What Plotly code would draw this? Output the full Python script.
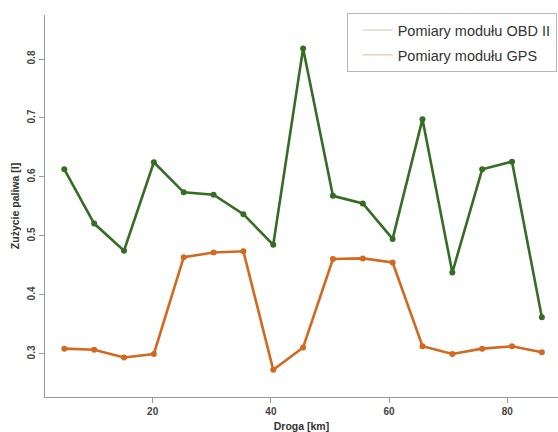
import plotly.graph_objects as go

# Distance travelled [km] at each measurement point
droga_km = [5.05, 10.1, 15.15, 20.2, 25.25, 30.3, 35.35, 40.4, 45.45,
            50.5, 55.55, 60.6, 65.65, 70.7, 75.75, 80.8, 85.85]

# Fuel consumption [l] per segment
obd2 = [0.613, 0.521, 0.475, 0.625, 0.574, 0.570, 0.537, 0.485, 0.818,
        0.568, 0.555, 0.495, 0.698, 0.438, 0.613, 0.626, 0.362]
gps = [0.309, 0.307, 0.294, 0.300, 0.464, 0.472, 0.474, 0.273, 0.311,
       0.461, 0.462, 0.455, 0.313, 0.300, 0.309, 0.313, 0.303]

x_ticks = [20, 40, 60, 80]
y_ticks = [0.3, 0.4, 0.5, 0.6, 0.7, 0.8]

legend_names = ["Pomiary modułu OBD II", "Pomiary modułu GPS"]

GREEN = "#356d24"
ORANGE = "#d2691e"
AXIS_GREY = "#9a9a9a"

fig = go.Figure()

fig.add_trace(go.Scatter(
    x=droga_km, y=obd2, mode="lines+markers", showlegend=False,
    line=dict(color=GREEN, width=2.6), marker=dict(color=GREEN, size=6),
))
fig.add_trace(go.Scatter(
    x=droga_km, y=gps, mode="lines+markers", showlegend=False,
    line=dict(color=ORANGE, width=2.6), marker=dict(color=ORANGE, size=6),
))

# Legend entries (thin pale key lines)
for name, col, grp in zip(legend_names, ["#c9c9ad", "#dccaa8"], ["a", "b"]):
    fig.add_trace(go.Scatter(
        x=[None], y=[None], mode="lines", name=name, legendgroup=grp,
        line=dict(color=col, width=1.2),
    ))

tick_font = dict(family="Liberation Sans, Arial, sans-serif", size=10, color="#444444")
title_font = dict(family="Liberation Sans, Arial, sans-serif", size=10.5, color="#333333")

fig.update_layout(
    width=558, height=432,
    margin=dict(l=45, r=0, t=15, b=35),
    paper_bgcolor="white", plot_bgcolor="white",
    showlegend=True,
    legend=dict(
        x=0.588, y=1.005, xanchor="left", yanchor="top",
        bordercolor="#b8b8b8", borderwidth=1, bgcolor="white",
        font=dict(family="Liberation Sans, Arial, sans-serif", size=14.5, color="#333333"),
        indentation=10, traceorder="grouped", tracegroupgap=3,
    ),
    xaxis=dict(
        range=[1.78, 88.58], tickvals=x_ticks,
        ticktext=[f"<b>{v}</b>" for v in x_ticks],
        showgrid=False, zeroline=False,
        showline=True, linecolor=AXIS_GREY, linewidth=1.3,
        ticks="outside", ticklen=5, tickcolor=AXIS_GREY,
        tickfont=tick_font,
        title=dict(text="<b>Droga [km]</b>", font=title_font, standoff=6),
    ),
    yaxis=dict(
        range=[0.227, 0.8746], tickvals=y_ticks,
        ticktext=[f"<b>{v:.1f}</b>" for v in y_ticks],
        tickangle=-90,
        showgrid=False, zeroline=False,
        showline=True, linecolor=AXIS_GREY, linewidth=1.3,
        ticks="outside", ticklen=5, tickcolor=AXIS_GREY,
        tickfont=tick_font,
        title=dict(text="<b>Zużycie paliwa [l]</b>", font=title_font, standoff=4),
    ),
)

fig.write_html("out.html")
